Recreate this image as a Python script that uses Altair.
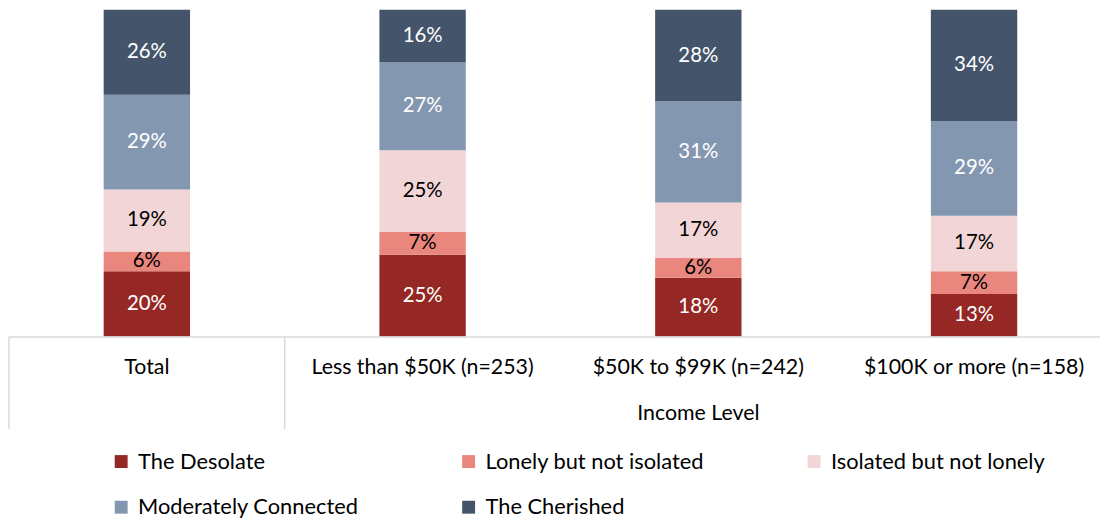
import altair as alt
import pandas as pd

categories = ["Total", "Less than $50K (n=253)", "$50K to $99K (n=242)", "$100K or more (n=158)"]
segments = ["The Desolate", "Lonely but not isolated", "Isolated but not lonely",
            "Moderately Connected", "The Cherished"]
desolate = [20, 25, 18, 13]
lonely = [6, 7, 6, 7]
isolated = [19, 25, 17, 17]
moderate = [29, 27, 31, 29]
cherished = [26, 16, 28, 34]
group_label = "Income Level"

colors = ["#952824", "#E9877E", "#F2D5D6", "#8497B0", "#44546A"]
FONT = "Lato"

series = [desolate, lonely, isolated, moderate, cherished]
rows = []
for ci, cat in enumerate(categories):
    base = 0
    for si, seg in enumerate(segments):
        v = series[si][ci]
        rows.append({"cat": cat, "pos": ci, "segment": seg, "value": v,
                     "y0": base, "y1": base + v, "mid": base + v / 2,
                     "label": f"{v}%"})
        base += v
df = pd.DataFrame(rows)

W, H = 1099, 329
STEP = 277.75  # pixels per category; the last category runs past the right edge
xscale = alt.Scale(domain=[-0.5, -0.5 + W / STEP], nice=False, zero=False, padding=0)
yscale = alt.Scale(domain=[0, 100])

bars = alt.Chart(df).mark_bar(size=87).encode(
    x=alt.X("pos:Q", scale=xscale, axis=None),
    y=alt.Y("y0:Q", scale=yscale, axis=None),
    y2="y1:Q",
    color=alt.Color("segment:N", scale=alt.Scale(domain=segments, range=colors),
                    legend=alt.Legend(orient="none", legendX=102, legendY=444, columns=3,
                                      direction="horizontal",
                                      title=None, symbolType="square", symbolSize=169,
                                      symbolStrokeWidth=0, labelFont=FONT, labelFontSize=22,
                                      labelColor="#000000", labelOffset=6, columnPadding=99,
                                      rowPadding=24, padding=0, labelLimit=400)),
)

labels = alt.Chart(df).mark_text(font=FONT, fontSize=20.5, baseline="middle").encode(
    x=alt.X("pos:Q", scale=xscale),
    y=alt.Y("mid:Q", scale=yscale),
    text="label:N",
    color=alt.condition(
        "indexof(['Lonely but not isolated','Isolated but not lonely'], datum.segment) >= 0",
        alt.value("#000000"), alt.value("#FFFFFF")),
)

cat_df = pd.DataFrame({"cat": categories, "pos": list(range(len(categories)))})
cat_labels = alt.Chart(cat_df).mark_text(font=FONT, fontSize=21.5, baseline="middle",
                                         color="#000000").encode(
    x=alt.X("pos:Q", scale=xscale),
    y=alt.value(H + 32),
    text="cat:N",
)

# "Income Level" spans the three income categories (positions 1..3)
group_df = pd.DataFrame({"label": [group_label], "pos": [2.0]})
group_text = alt.Chart(group_df).mark_text(font=FONT, fontSize=21.5, baseline="middle",
                                           color="#000000").encode(
    x=alt.X("pos:Q", scale=xscale),
    y=alt.value(H + 78),
    text="label:N",
)

axis_line = alt.Chart(cat_df.head(1)).mark_rule(color="#D9D9D9", strokeWidth=1.5).encode(
    x=alt.value(0), x2=alt.value(W), y=alt.value(H + 0.5),
)

# group boundaries: left edge of "Total" and between "Total" and the income group
div_df = pd.DataFrame({"pos": [-0.5, 0.5]})
dividers = alt.Chart(div_df).mark_rule(color="#D9D9D9", strokeWidth=1.5).encode(
    x=alt.X("pos:Q", scale=xscale),
    y=alt.value(H),
    y2=alt.value(H + 93),
)

chart = alt.layer(bars, labels, axis_line, dividers, cat_labels, group_text).properties(
    width=W, height=H,
    autosize=alt.AutoSizeParams(type="none"),
    padding={"left": 1, "top": 0, "right": 0, "bottom": 184},
).configure_view(stroke=None).resolve_scale(color="independent")

chart.save("out.html", embed_options={"renderer": "svg", "actions": False})
